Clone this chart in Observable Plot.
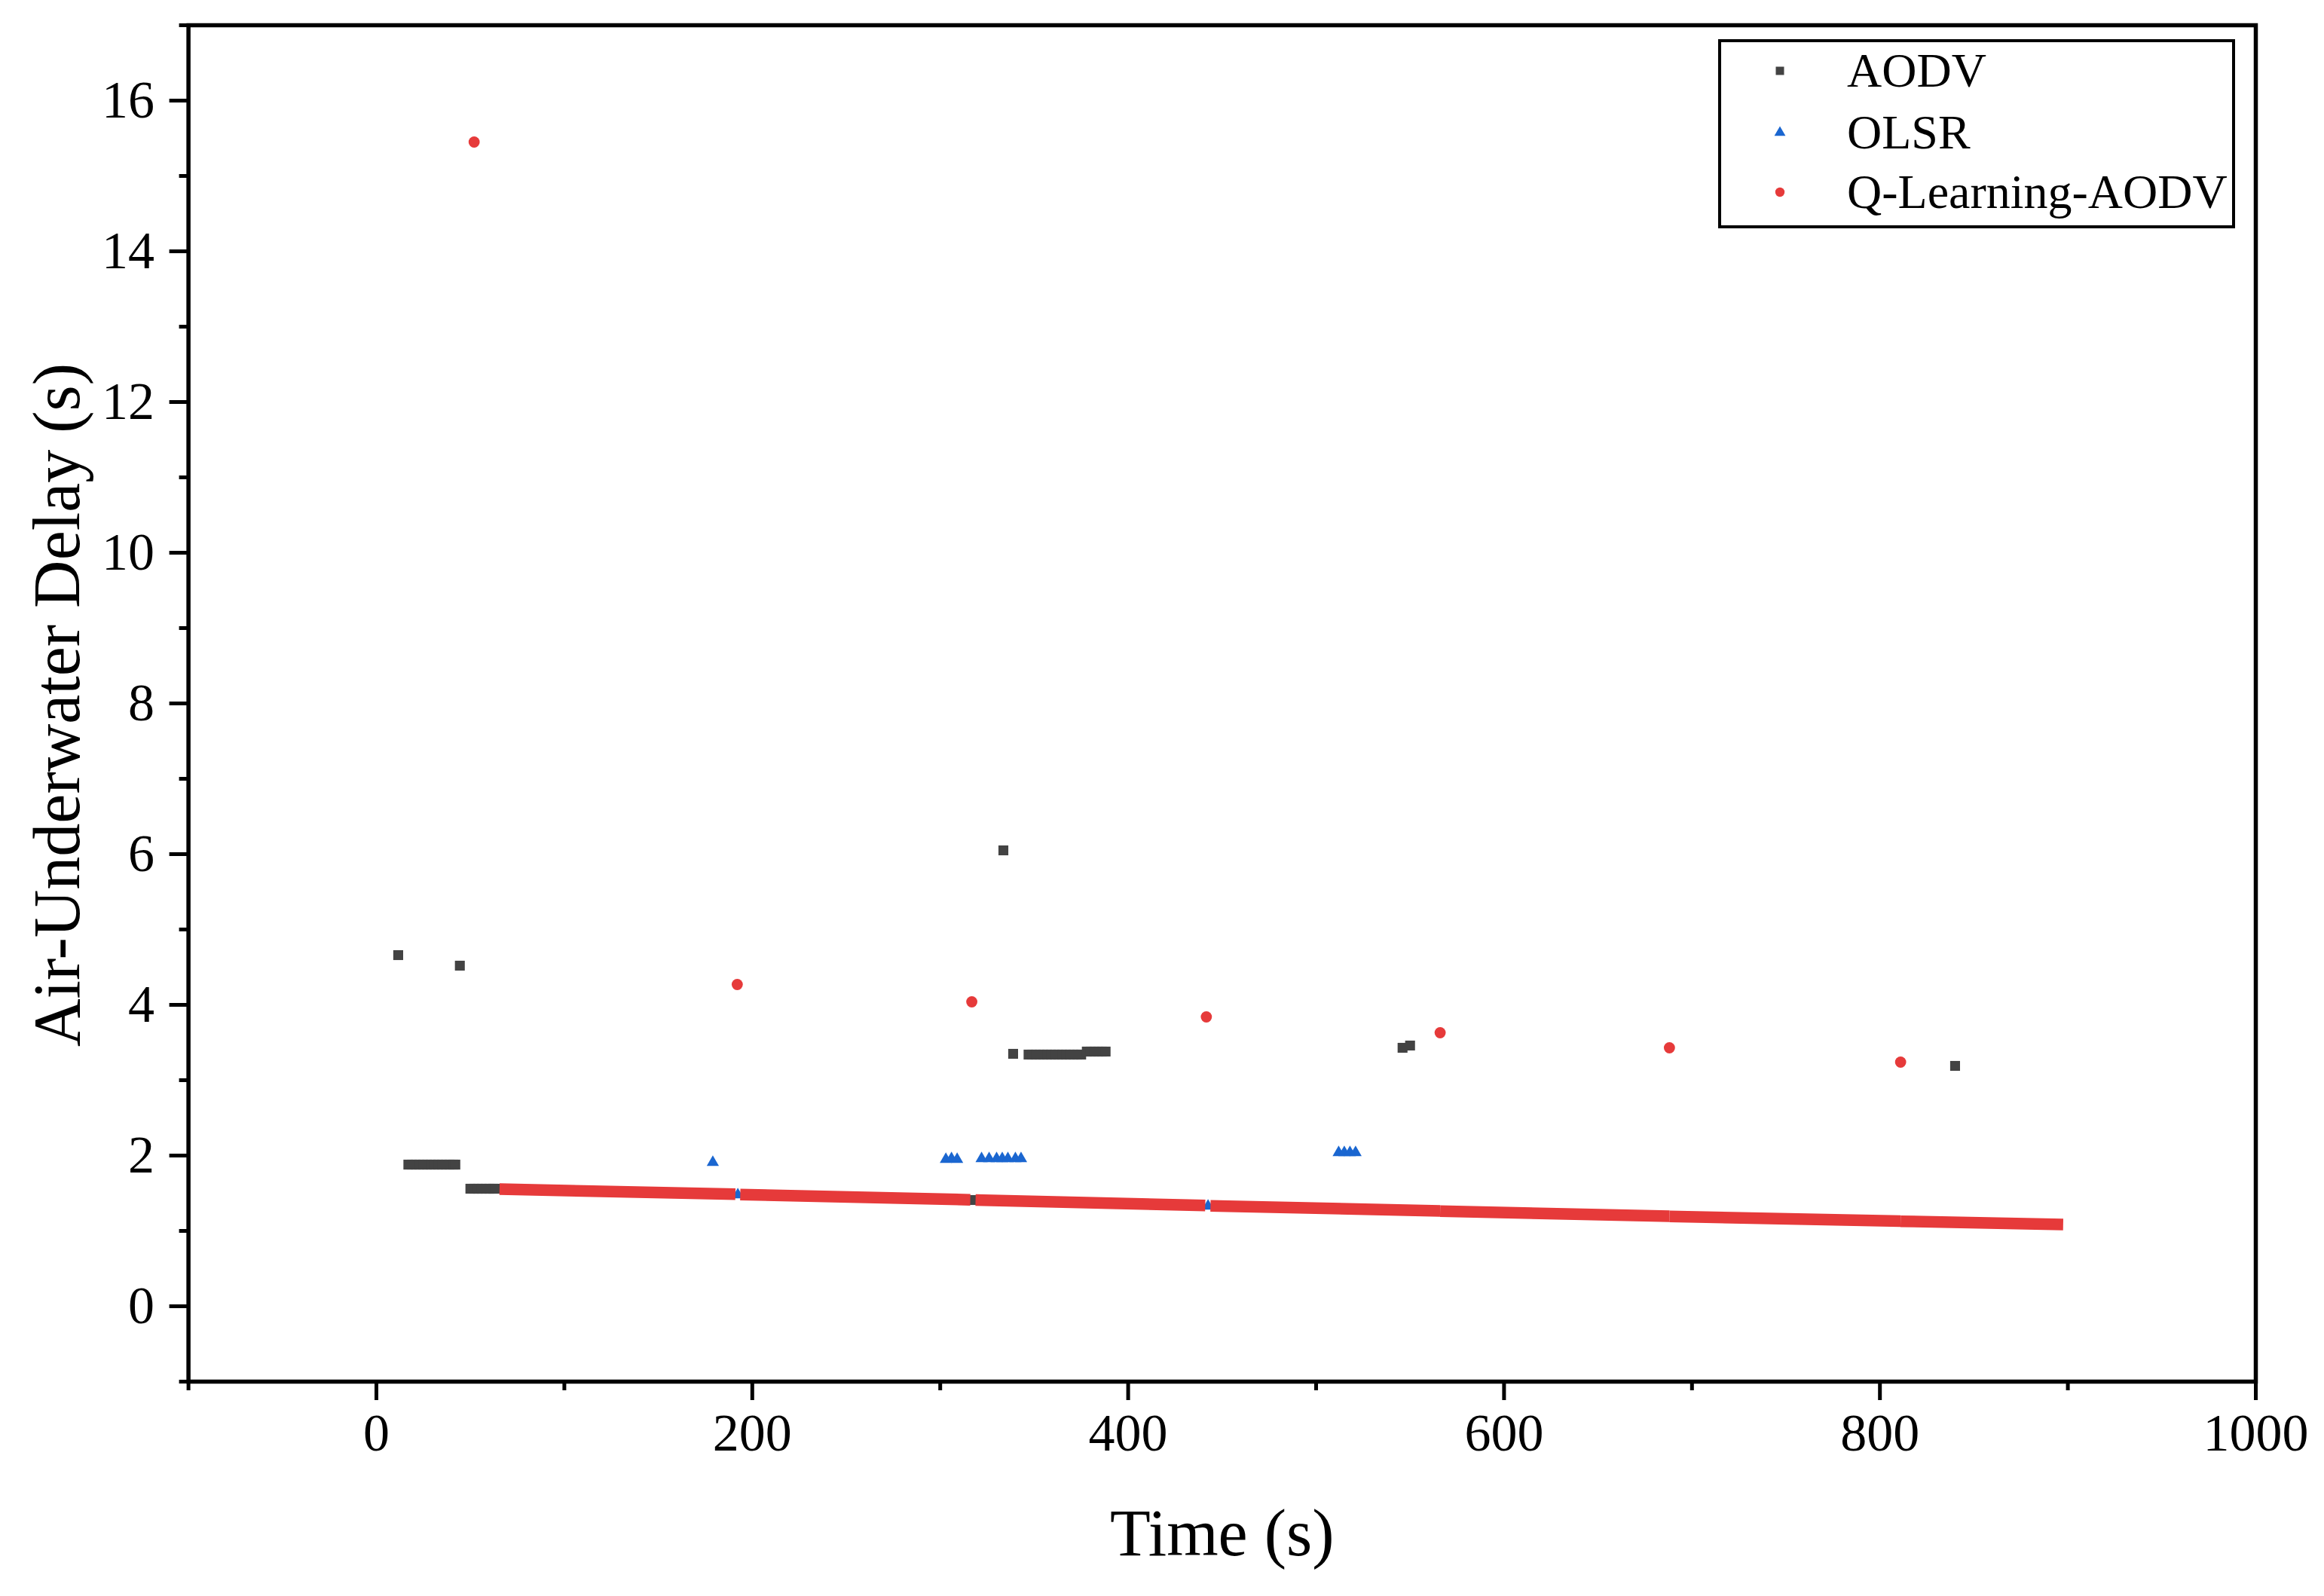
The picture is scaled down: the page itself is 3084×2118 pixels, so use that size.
<!DOCTYPE html>
<html>
<head>
<meta charset="utf-8">
<script src="https://cdn.jsdelivr.net/npm/d3@7"></script>
<script src="https://cdn.jsdelivr.net/npm/@observablehq/plot@0.6"></script>
<style>
html, body { margin: 0; padding: 0; background: #fff; }
#wrap { position: relative; width: 3084px; height: 2118px; overflow: hidden; }
</style>
</head>
<body>
<div id="wrap"></div>
<script>
// ---------- data ----------
const seriesNames = ["AODV", "OLSR", "Q-Learning-AODV"];
const seriesColors = ["#434343", "#1a66d0", "#e63a3a"];
const seriesSymbols = ["square", "triangle", "circle"];

// AODV (s)
const aodvT = [11.6, 44.4, 333.6, 338.8, 546, 550, 840, 317.5,
  17, 19, 21, 23, 25, 27, 29, 31, 33, 35, 37, 39, 41, 42,
  50, 52, 54, 56, 58, 60, 62, 63,
  347, 349, 351, 353, 355, 357, 359, 361, 363, 365, 367, 369, 371, 373, 375,
  378, 380, 382, 384, 386, 388];
const aodvV = [4.66, 4.52, 6.05, 3.35, 3.43, 3.46, 3.19, 1.41,
  1.88, 1.88, 1.88, 1.88, 1.88, 1.88, 1.88, 1.88, 1.88, 1.88, 1.88, 1.88, 1.88, 1.88,
  1.56, 1.56, 1.56, 1.56, 1.56, 1.56, 1.56, 1.56,
  3.34, 3.34, 3.34, 3.34, 3.34, 3.34, 3.34, 3.34, 3.34, 3.34, 3.34, 3.34, 3.34, 3.34, 3.34,
  3.38, 3.38, 3.38, 3.38, 3.38, 3.38];

// OLSR
const olsrT = [179, 303, 306, 309, 322, 326, 330, 333, 336, 340, 343, 512, 515, 518, 521, 192.3, 442.5];
const olsrV = [1.91, 1.95, 1.96, 1.95, 1.96, 1.96, 1.96, 1.96, 1.96, 1.96, 1.96, 2.04, 2.04, 2.04, 2.04, 1.48, 1.33];

// Q-Learning-AODV isolated points
const qlT = [52, 192, 316.8, 441.6, 566, 688, 811];
const qlV = [15.45, 4.27, 4.04, 3.84, 3.63, 3.43, 3.24];

// Q-Learning-AODV dense run (breakpoints of each continuous stretch)
const qlRunSeg = [1, 1, 2, 2, 3, 3, 4, 4, 5, 5, 6, 6, 7, 7];
const qlRunT = [65.5, 191, 193.6, 316, 318.8, 441, 443.8, 566, 566, 688, 688, 811, 811, 897.5];
const qlRunV = [1.555, 1.487, 1.482, 1.413, 1.41, 1.338, 1.333, 1.265, 1.262, 1.196, 1.193, 1.13, 1.128, 1.085];

// axes
const xMajor = [0, 200, 400, 600, 800, 1000];
const xMinor = [-100, 100, 300, 500, 700, 900];
const yMajor = [0, 2, 4, 6, 8, 10, 12, 14, 16];
const yMinor = [-1, 1, 3, 5, 7, 9, 11, 13, 15, 17];
const xTitle = "Time (s)";
const yTitle = "Air-Underwater Delay (s)";

// ---------- build ----------
const pts = (T, V) => T.map((t, i) => ({t, v: V[i]}));
const aodv = pts(aodvT, aodvV);
const olsr = pts(olsrT, olsrV);
const ql = pts(qlT, qlV);
const qlRun = qlRunT.map((t, i) => ({t, v: qlRunV[i], seg: qlRunSeg[i]}));

const font = '"Liberation Serif", "Times New Roman", serif';
const fmt = d => String(d);

const chart = Plot.plot({
  width: 3084,
  height: 2118,
  marginLeft: 249.6,
  marginRight: 91,
  marginTop: 33,
  marginBottom: 285,
  style: {fontFamily: font, fontSize: "70px", background: "white", color: "black", overflow: "visible"},
  x: {domain: [-100, 1000]},
  y: {domain: [-1, 17]},
  marks: [
    Plot.axisX({ticks: xMajor, tickSize: 25, tickPadding: 17, strokeWidth: 5, tickFormat: fmt, label: null, fontSize: 70, fontFamily: font}),
    Plot.axisX({ticks: xMinor, tickSize: 12, tickPadding: 17, strokeWidth: 5, tickFormat: () => "", label: null}),
    Plot.axisY({ticks: yMajor, tickSize: 25, tickPadding: 20, strokeWidth: 5, tickFormat: fmt, label: null, fontSize: 70, fontFamily: font}),
    Plot.axisY({ticks: yMinor, tickSize: 12, tickPadding: 20, strokeWidth: 5, tickFormat: () => "", label: null}),
    Plot.dot(aodv, {x: "t", y: "v", symbol: "square", r: 7.4, fill: seriesColors[0], stroke: null}),
    Plot.dot(olsr, {x: "t", y: "v", symbol: "triangle", r: 6, fill: seriesColors[1], stroke: null}),
    Plot.line(qlRun, {x: "t", y: "v", z: "seg", stroke: seriesColors[2], strokeWidth: 15.5, strokeLinecap: "butt"}),
    Plot.dot(ql, {x: "t", y: "v", symbol: "circle", r: 7.4, fill: seriesColors[2], stroke: null}),
    Plot.frame({stroke: "black", strokeWidth: 5.5}),
    Plot.text([xTitle], {text: d => d, frameAnchor: "bottom", textAnchor: "middle", dy: 202, fontSize: 88, fontFamily: font, fill: "black", lineAnchor: "middle"}),
    Plot.text([yTitle], {text: d => d, frameAnchor: "left", textAnchor: "middle", dx: -173, dy: 2, rotate: -90, fontSize: 88, fontFamily: font, fill: "black", lineAnchor: "middle"})
  ]
});
const wrap = document.getElementById("wrap");
wrap.appendChild(chart);

// ---------- legend ----------
const leg = d3.select(wrap).append("svg")
  .attr("width", 3084).attr("height", 2118)
  .style("position", "absolute").style("left", "0px").style("top", "0px");
leg.append("rect")
  .attr("x", 2282).attr("y", 54).attr("width", 682).attr("height", 247)
  .attr("fill", "white").attr("stroke", "black").attr("stroke-width", 4);
const rowY = [94, 176, 255];
const symMap = {square: d3.symbolSquare, triangle: d3.symbolTriangle, circle: d3.symbolCircle};
const symR = [6.2, 5.5, 6.2];
seriesNames.forEach((name, i) => {
  leg.append("path")
    .attr("transform", `translate(2362,${rowY[i]})`)
    .attr("d", d3.symbol(symMap[seriesSymbols[i]], Math.PI * symR[i] * symR[i])())
    .attr("fill", seriesColors[i]);
  leg.append("text")
    .attr("x", 2451).attr("y", rowY[i] + 21)
    .attr("font-family", font).attr("font-size", 64).attr("fill", "black")
    .text(name);
});
</script>
</body>
</html>
